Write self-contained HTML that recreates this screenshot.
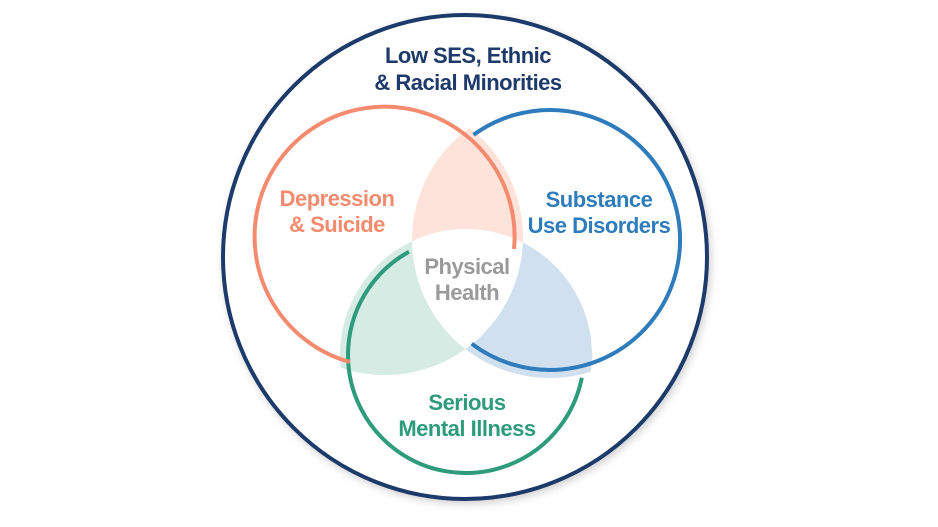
<!DOCTYPE html>
<html><head><meta charset="utf-8"><style>
html,body{margin:0;padding:0;background:#fff;width:938px;height:527px;overflow:hidden}
text{font-family:"Liberation Sans",sans-serif;font-weight:bold;text-anchor:middle;letter-spacing:-0.5px}
</style></head><body>
<svg width="938" height="527" viewBox="0 0 938 527" xmlns="http://www.w3.org/2000/svg">
<defs>
<clipPath id="fo"><circle cx="385" cy="237" r="138"/></clipPath>
<clipPath id="fb"><circle cx="550" cy="240" r="138"/></clipPath>
<clipPath id="fg"><circle cx="466" cy="355" r="126"/></clipPath>
<filter id="sh" x="-20%" y="-20%" width="140%" height="140%"><feDropShadow dx="2" dy="3" stdDeviation="4" flood-color="#000" flood-opacity="0.18"/></filter>
</defs>
<circle cx="465" cy="257" r="242" fill="#fff" stroke="#1d3a6a" stroke-width="4" filter="url(#sh)"/>
<g clip-path="url(#fo)"><circle cx="550" cy="240" r="138" fill="#fde3da"/></g>
<g clip-path="url(#fo)"><circle cx="466" cy="355" r="126" fill="#d5ebe3"/></g>
<g clip-path="url(#fb)"><circle cx="466" cy="355" r="126" fill="#d0e0ee"/></g>
<g clip-path="url(#fo)"><g clip-path="url(#fb)"><circle cx="466" cy="355" r="126" fill="#fff"/></g></g>
<path d="M 473.5 134.9 A 130 130 0 1 1 471.7 343.7" fill="none" stroke="#2f7cbc" stroke-width="4"/>
<path d="M 409 251.7 A 118 118 0 1 0 581.8 377.8" fill="none" stroke="#2e9b7c" stroke-width="4"/>
<path d="M 350 362 A 130 130 0 1 1 514 249" fill="none" stroke="#f58b6e" stroke-width="4"/>
<text x="468" y="63" font-size="22" fill="#1d3a6a">Low SES, Ethnic</text>
<text x="468" y="90" font-size="22" fill="#1d3a6a">&amp; Racial Minorities</text>
<text x="337" y="206" font-size="22" fill="#f58b6e">Depression</text>
<text x="337" y="232" font-size="22" fill="#f58b6e">&amp; Suicide</text>
<text x="599" y="207" font-size="22" fill="#2f7cbc">Substance</text>
<text x="599" y="233" font-size="22" fill="#2f7cbc">Use Disorders</text>
<text x="467" y="274" font-size="22" fill="#9a9a9a">Physical</text>
<text x="467" y="300" font-size="22" fill="#9a9a9a">Health</text>
<text x="467" y="410" font-size="22" fill="#2e9b7c">Serious</text>
<text x="467" y="436" font-size="22" fill="#2e9b7c">Mental Illness</text>
</svg>
</body></html>
